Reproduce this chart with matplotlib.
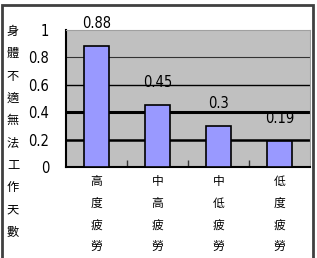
import matplotlib
matplotlib.use("Agg")
import matplotlib.pyplot as plt
from matplotlib.patches import Rectangle

plt.rcParams['font.family'] = ['Noto Sans CJK TC', 'DejaVu Sans']

# data
categories = ["高度疲勞", "中高疲勞", "中低疲勞", "低度疲勞"]
values = [0.88, 0.45, 0.3, 0.19]
yticks = [0, 0.2, 0.4, 0.6, 0.8, 1]
ytick_labels = ["0", "0.2", "0.4", "0.6", "0.8", "1"]
ylabel = "身體不適無法工作天數"

num_font = dict(family=["Liberation Sans Narrow", "DejaVu Sans"], fontstretch="condensed")

fig = plt.figure(figsize=(3.17, 2.58), dpi=100)
ax = fig.add_axes([66 / 317, 1 - 167 / 258, 244 / 317, 137 / 258])
ax.set_facecolor("#c0c0c0")

x = list(range(len(categories)))
ax.bar(x, values, width=0.42, color="#9999ff", edgecolor="black", linewidth=1.2, zorder=3)

# gridlines with different weights like the reference
grid_w = {0.2: 1.8, 0.4: 2.2, 0.6: 1.0, 0.8: 0.8}
for yv, lw in grid_w.items():
    ax.axhline(yv, color="black" if yv < 0.8 else "#333333", lw=lw, zorder=1)

ax.set_xlim(-0.5, len(categories) - 0.5)
ax.set_ylim(0, 1)
ax.set_yticks(yticks)
ax.set_yticklabels(ytick_labels, fontsize=10.5, **num_font)
ax.tick_params(axis="y", length=0, pad=12)
ax.set_xticks([i + 0.5 for i in x[:-1]])
ax.set_xticklabels([])
ax.tick_params(axis="x", direction="in", length=5, width=1, color="#333333")

for s in ["top", "right"]:
    ax.spines[s].set_color("#a0a0a0")
    ax.spines[s].set_linewidth(0.8)
ax.spines["left"].set_linewidth(1.5)
ax.spines["bottom"].set_linewidth(1.5)

# value labels
for xi, v in zip(x, values):
    ax.annotate(str(v), (xi, v), xytext=(0, 11), textcoords="offset points",
                ha="center", va="bottom", fontsize=10.5, annotation_clip=False,
                **num_font)

# vertical category labels
for xi, cat in zip(x, categories):
    ax.text(xi, -0.06, "\n".join(cat), ha="center", va="top", fontsize=8.5,
            linespacing=1.87, transform=ax.get_xaxis_transform())

# vertical y label
fig.text(13 / 317, 1 - 25 / 258, "\n".join(ylabel), ha="center", va="top",
         fontsize=8.8, linespacing=1.93)

# outer border
fig.patches.append(Rectangle((1.5 / 317, -0.05), 311.5 / 317, 1.05 - 5 / 258,
                             transform=fig.transFigure, fill=False,
                             edgecolor="#404040", lw=2))

fig.savefig("out.png", dpi=100)
